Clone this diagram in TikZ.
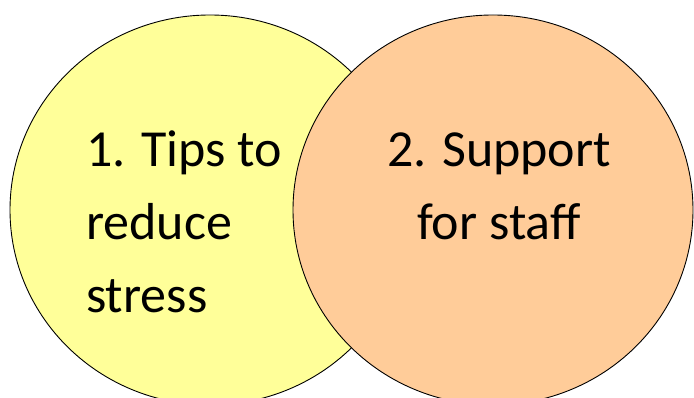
\documentclass[tikz,border=0pt]{standalone}
\usepackage{fontspec}
\setmainfont{Carlito}
\usetikzlibrary{shapes.geometric,positioning}
\definecolor{tipsfill}{RGB}{255,255,153}
\definecolor{stafffill}{RGB}{255,204,153}

\begin{document}
\begin{tikzpicture}[x=1pt, y=1pt,
        set/.style={ellipse, draw=black, line width=0.9pt, minimum width=400pt, minimum height=390pt, inner sep=0pt},
        lbl/.style={font=\fontsize{52}{73}\selectfont, inner sep=0pt}]
        \useasboundingbox (0,0) rectangle (694,398);
        \begin{scope}
        \clip (0,0) rectangle (694,398);
        \node[set, fill=tipsfill] (tips) at (210,188) {};
        \node[set, fill=stafffill] (staff) at (493,188) {};
        \end{scope}
        % Labels
        \node[lbl, align=left, anchor=base west] (tipstxt) at (86,85) {1. Tips to\\reduce\\stress};
        \node[lbl, align=center, anchor=base] (stafftxt) at (499,158) {2. Support\\for staff};
    \end{tikzpicture}
\end{document}
